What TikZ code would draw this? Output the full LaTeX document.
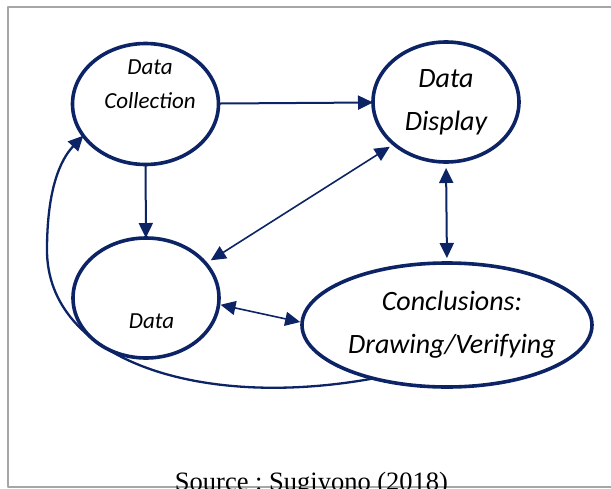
\documentclass[tikz,border=0pt]{standalone}
\usepackage{fontspec}
\usetikzlibrary{shapes.geometric,arrows.meta}
\newfontfamily\calib{Carlito}
\newfontfamily\srcfont{Liberation Serif}
\definecolor{stageblue}{RGB}{12,36,102}
\tikzset{
  stage/.style={ellipse, draw=stageblue, line width=3.6pt, inner sep=0pt, outer sep=0pt},
  flow/.style={draw=stageblue, line width=2pt},
  small/.style={font=\calib\itshape\fontsize{23}{34}\selectfont, align=center},
  big/.style={font=\calib\itshape\fontsize{28}{43}\selectfont, align=center},
}
\begin{document}
\begin{tikzpicture}[x=1pt,y=-1pt,>={Triangle[length=15pt,width=14pt]}, line join=round]
  \path[use as bounding box, clip] (0,0) rectangle (611,488);
  \draw[gray!70, line width=1.3pt] (8,7) rectangle (640,487);
  % the four stages
  \node[stage, minimum width=146pt, minimum height=121pt] (coll) at (145.5,104) {};
  \node[stage, minimum width=146pt, minimum height=120pt] (disp) at (446,102) {};
  \node[stage, minimum width=146pt, minimum height=120pt] (data) at (146,298) {};
  \node[stage, minimum width=290pt, minimum height=124pt] (concl) at (447,325) {};
  \node[small] (colltxt) at (150,84.5) {Data\\Collection};
  \node[big] (disptxt) at (446,102.5) {Data\\Display};
  \node[small] (datatxt) at (151.5,321.5) {Data};
  \node[big] (concltxt) at (452,324.5) {Conclusions:\\Drawing/Verifying};
  % arrows between them
  \draw[flow,->] (coll) -- (disp);
  \draw[flow,->] (coll) -- (data);
  \draw[flow,<->, line width=1.6pt, shorten <=5pt, shorten >=6pt] (disp.219) -- (data.30);
  \draw[flow,<->, line width=1.6pt, shorten <=2pt, shorten >=2pt] (data.-5) -- (concl.179);
  \draw[flow,<->, shorten <=6pt, shorten >=5pt] (disp.south) -- (concl.north);
  \draw[flow,->, line width=2.3pt] (concl.216) .. controls (200,410) and (47,360) .. (47,250)
    .. controls (47,190) and (60,160) .. (coll.207);
  \node[font=\srcfont\fontsize{26.5}{30}\selectfont, anchor=base] (src) at (311.5,490) {\frenchspacing Source : Sugiyono (2018)};
\end{tikzpicture}
\end{document}
